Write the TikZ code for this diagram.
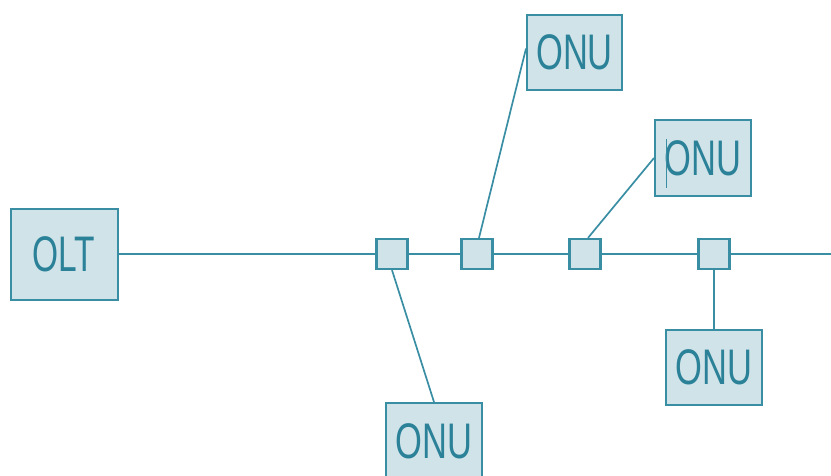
\documentclass[tikz,border=0pt]{standalone}
\usepackage{fontspec}
\setmainfont{Liberation Sans}
\usepackage{graphicx}
\definecolor{boxfill}{HTML}{D0E3E9}
\definecolor{boxline}{HTML}{3A8EA4}
\definecolor{boxtext}{HTML}{2B8298}
\begin{document}
\begin{tikzpicture}[x=1pt,y=-1pt,
  bigbox/.style={draw=boxline,fill=boxfill,line width=2pt,inner sep=0pt,text=boxtext,
    font=\fontsize{50}{51}\selectfont},
  splitter/.style={draw=boxline,fill=boxfill,line width=2.2pt,inner sep=0pt,minimum width=31pt,minimum height=30pt},
  link/.style={draw=boxline,line width=1.7pt}]
\useasboundingbox (0,0) rectangle (831,475);
\coordinate (E) at (831,254);
\node[bigbox,minimum width=107pt,minimum height=91pt] (OLT) at (64,254) {\scalebox{0.67}[1]{OLT}};
\node[splitter] (S1) at (392,254) {};
\node[splitter] (S2) at (477,254) {};
\node[splitter] (S3) at (585,254) {};
\node[splitter] (S4) at (714,254) {};
\draw[link] (OLT.east) -- (S1.west);
\draw[link] (S1.east) -- (S2.west);
\draw[link] (S2.east) -- (S3.west);
\draw[link] (S3.east) -- (S4.west);
\draw[link] (S4.east) -- (E);
% ONUs
\node[bigbox,minimum width=95pt,minimum height=75pt] (N1) at (574.5,52.5) {\scalebox{0.69}[1]{ONU}};
\node[bigbox,minimum width=96pt,minimum height=76pt] (N2) at (703,158) {\scalebox{0.69}[1]{ONU}};
\node[bigbox,minimum width=96pt,minimum height=76pt] (N3) at (434,441) {\scalebox{0.69}[1]{ONU}};
\node[bigbox,minimum width=96pt,minimum height=75pt] (N4) at (714,367.5) {\scalebox{0.69}[1]{ONU}};
% drops
\draw[link] ([xshift=2pt]S2.north) -- ([yshift=4pt]N1.west);
\draw[link] ([xshift=3pt]S3.north) -- (N2.west);
\draw[link] (S1.south) -- (N3.north);
\draw[link] (S4.south) -- (N4.north);
% caret
\coordinate (C1) at (666,139);
\coordinate (C2) at (666,188);
\draw[boxline,line width=0.8pt] (C1) -- (C2);
\end{tikzpicture}
\end{document}
